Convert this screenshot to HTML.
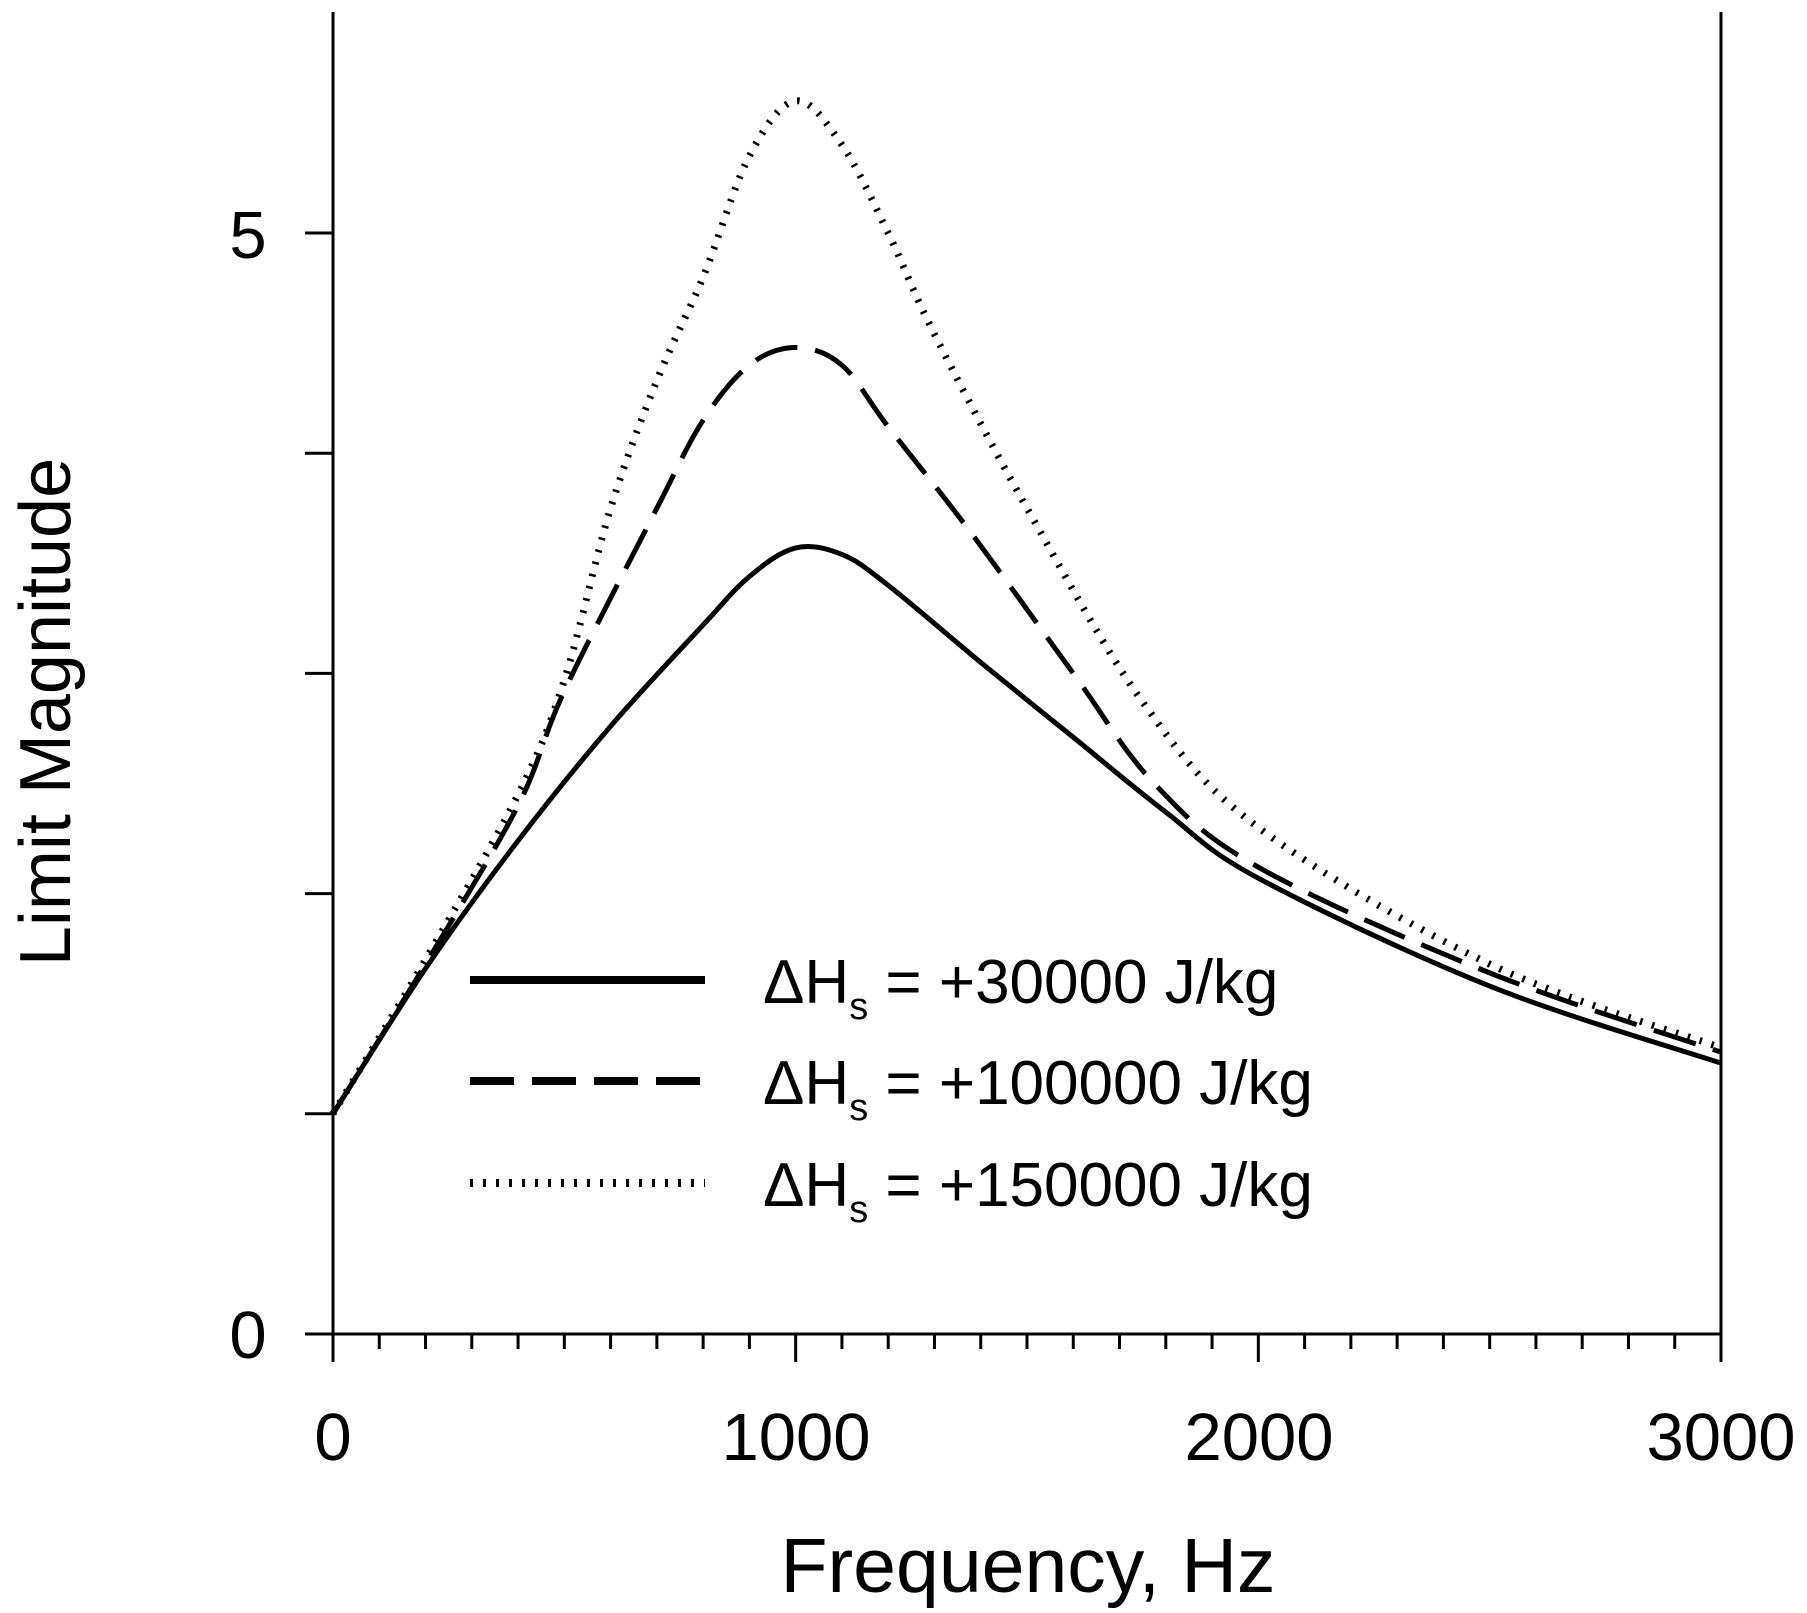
<!DOCTYPE html>
<html><head><meta charset="utf-8"><style>
html,body{margin:0;padding:0;background:#fff}
svg text{font-family:"Liberation Sans",sans-serif;fill:#000}
</style></head><body>
<svg id="s" width="1807" height="1608" viewBox="0 0 1807 1608" xmlns="http://www.w3.org/2000/svg">
<g id="axes" stroke="#000" stroke-width="3" fill="none">
<line x1="333" y1="12" x2="333" y2="1362"/>
<line x1="1721" y1="12" x2="1721" y2="1362"/>
<line x1="305" y1="1334" x2="1721" y2="1334"/>
</g>
<g id="ticks" stroke="#000" stroke-width="3"></g>
<g id="curves" fill="none" stroke="#000"></g>
<g stroke="#000" fill="none">
<line x1="470" y1="980" x2="705" y2="980" stroke-width="8"/>
<line x1="470" y1="1081" x2="705" y2="1081" stroke-width="8" stroke-dasharray="44,18"/>
<line x1="470" y1="1183" x2="705" y2="1183" stroke-width="8" stroke-dasharray="3,10"/>
</g>
<g font-size="62">
<text x="763" y="1003">ΔH<tspan font-size="38" dy="16">s</tspan><tspan dy="-16"> = +30000 J/kg</tspan></text>
<text x="763" y="1104">ΔH<tspan font-size="38" dy="16">s</tspan><tspan dy="-16"> = +100000 J/kg</tspan></text>
<text x="763" y="1206">ΔH<tspan font-size="38" dy="16">s</tspan><tspan dy="-16"> = +150000 J/kg</tspan></text>
</g>
<g font-size="67" text-anchor="middle">
<text x="248" y="258">5</text>
<text x="248" y="1358">0</text>
<text x="333" y="1460">0</text>
<text x="796" y="1460">1000</text>
<text x="1259" y="1460">2000</text>
<text x="1721" y="1460">3000</text>
<text x="1028" y="1592" font-size="77">Frequency, Hz</text>
<text transform="translate(70,712) rotate(-90)" font-size="72">Limit Magnitude</text>
</g>
</svg>
<script>
var X=function(f){return 333+f*1388/3000},Y=function(v){return 1334-v*220.2};
var t=document.getElementById('ticks'),h='';
for(var i=1;i<30;i++){var x=X(i*100);h+='<line x1="'+x+'" y1="1334" x2="'+x+'" y2="'+(i%10==0?1362:1349)+'"/>';}
for(var v=1;v<=5;v++){h+='<line x1="305" y1="'+Y(v)+'" x2="333" y2="'+Y(v)+'"/>';}
t.innerHTML=h;
var S=[[0,1],[200,1.66],[400,2.24],[600,2.76],[800,3.22],[900,3.44],[1000,3.57],[1100,3.54],[1200,3.4],[1400,3.05],[1600,2.71],[1800,2.37],[2000,2.07],[2500,1.58],[3000,1.23]];
var D=[[0,1],[200,1.68],[400,2.4],[500,2.92],[700,3.75],[800,4.15],[900,4.4],[1000,4.48],[1100,4.4],[1200,4.12],[1375,3.65],[1600,3.0],[1775,2.5],[2000,2.12],[2500,1.64],[3000,1.28]];
var T=[[0,1],[200,1.7],[400,2.45],[500,2.97],[600,3.75],[700,4.33],[800,4.8],[900,5.35],[1000,5.6],[1100,5.4],[1200,5.0],[1300,4.54],[1500,3.75],[1750,2.87],[2000,2.3],[2500,1.68],[3000,1.3]];
function path(p){var q=p.map(function(a){return [X(a[0]),Y(a[1])]});var d='M'+q[0][0]+','+q[0][1];
for(var i=0;i<q.length-1;i++){var p0=q[i-1]||q[i],p1=q[i],p2=q[i+1],p3=q[i+2]||p2;
d+=' C'+(p1[0]+(p2[0]-p0[0])/6)+','+(p1[1]+(p2[1]-p0[1])/6)+' '+(p2[0]-(p3[0]-p1[0])/6)+','+(p2[1]-(p3[1]-p1[1])/6)+' '+p2[0]+','+p2[1];}return d;}
document.getElementById('curves').innerHTML=
'<path d="'+path(T)+'" stroke-width="7" stroke-dasharray="2.5,10"/>'+
'<path d="'+path(D)+'" stroke-width="5" stroke-dasharray="44,18"/>'+
'<path d="'+path(S)+'" stroke-width="5"/>';
</script>
</body></html>
